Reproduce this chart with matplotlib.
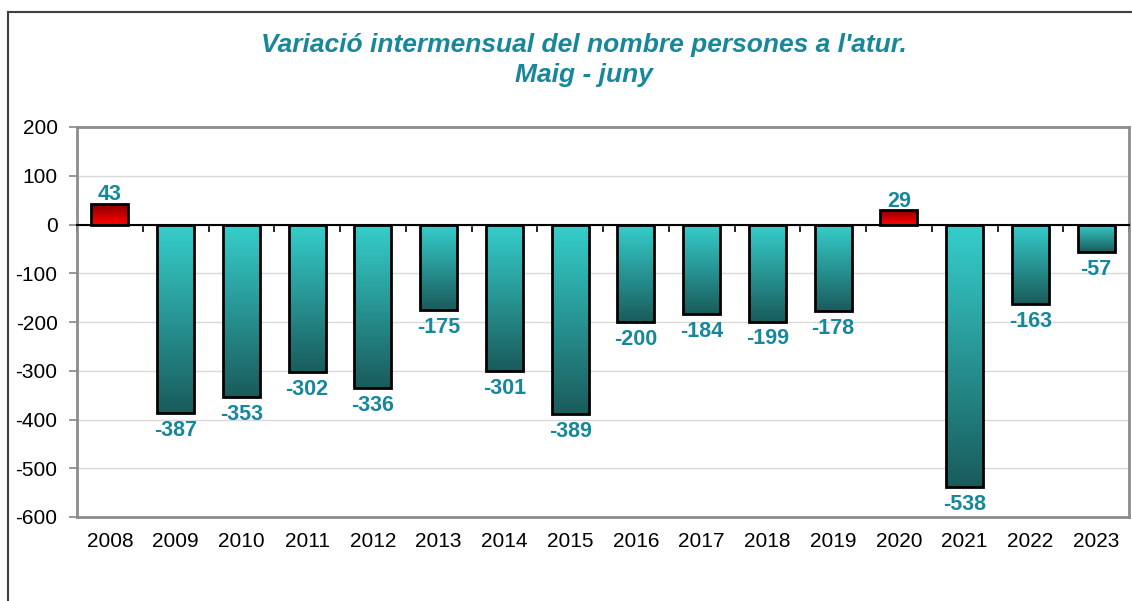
import numpy as np
import matplotlib
matplotlib.use('Agg')
import matplotlib.pyplot as plt
from matplotlib.lines import Line2D

plt.rcParams['font.family'] = ['Liberation Sans', 'DejaVu Sans']
plt.rcParams['axes.unicode_minus'] = False

# dades
anys = ['2008', '2009', '2010', '2011', '2012', '2013', '2014', '2015',
        '2016', '2017', '2018', '2019', '2020', '2021', '2022', '2023']
variacio = [43, -387, -353, -302, -336, -175, -301, -389,
            -200, -184, -199, -178, 29, -538, -163, -57]

titol = "Variació intermensual del nombre persones a l'atur.\nMaig - juny"
color_text = '#17889b'


def gradient_bar(ax, x, h, width):
    bar = ax.bar(x, h, width=width, color='none', edgecolor='black',
                 linewidth=2, zorder=4)[0]
    if h >= 0:
        c_top, c_bot = np.array([0.50, 0.0, 0.0]), np.array([1.0, 0.0, 0.0])
    else:
        c_top, c_bot = np.array([0.21, 0.81, 0.80]), np.array([0.10, 0.36, 0.36])
    t = np.linspace(0, 1, 100)[:, None]
    img = c_top[None, None, :] * (1 - t[..., None]) + c_bot[None, None, :] * t[..., None]
    img = np.repeat(img, 2, axis=1)
    top, bot = max(h, 0), min(h, 0)
    im = ax.imshow(img, extent=(x - width / 2, x + width / 2, bot, top),
                   aspect='auto', origin='upper', zorder=3)
    im.set_clip_path(bar)
    return bar


fig = plt.figure(figsize=(11.32, 6.01), dpi=100)
ax = fig.add_axes([77 / 1132, 1 - 517 / 601, (1129 - 77) / 1132, (517 - 127) / 601])

x = np.arange(len(anys))
for xi, v in zip(x, variacio):
    gradient_bar(ax, xi, v, 0.56)
    if v >= 0:
        ax.annotate(str(v), (xi, v), xytext=(0, -1), textcoords='offset points',
                    ha='center', va='bottom', fontsize=15.5, fontweight='bold',
                    color=color_text, zorder=5)
    else:
        ax.annotate(str(v), (xi, v), xytext=(0, -5), textcoords='offset points',
                    ha='center', va='top', fontsize=15.5, fontweight='bold',
                    color=color_text, zorder=5)

ax.set_xlim(-0.5, len(anys) - 0.5)
ax.set_ylim(-600, 200)
ax.set_yticks(np.arange(-600, 201, 100))
ax.yaxis.grid(True, color='#d9d9d9', linewidth=1)
ax.set_axisbelow(True)
ax.tick_params(axis='y', labelsize=15, length=6, color='#888888', width=1.2, pad=8)

# eix x a zero
for s in ['top', 'right', 'left']:
    ax.spines[s].set_color('#8c8c8c')
    ax.spines[s].set_linewidth(2)
ax.spines['bottom'].set_position(('data', 0))
ax.spines['bottom'].set_color('black')
ax.spines['bottom'].set_linewidth(1.5)
ax.spines['bottom'].set_zorder(6)
ax.set_xticks(np.arange(-0.5, len(anys), 1))
ax.set_xticklabels([])
ax.tick_params(axis='x', length=5, width=1.2, color='black', direction='out')

# marc inferior de l'àrea del gràfic
ax.add_line(Line2D([0, 1], [0, 0], transform=ax.transAxes, color='#8c8c8c',
                   linewidth=2, clip_on=False, zorder=6))

sec = ax.secondary_xaxis('bottom')
sec.set_xticks(x)
sec.set_xticklabels(anys)
sec.tick_params(length=0, labelsize=15, pad=11)
sec.spines['bottom'].set_visible(False)

fig.text(584 / 1132, 1 - 60 / 601, titol, ha='center', va='center',
         fontsize=19, fontweight='bold', fontstyle='italic', color=color_text,
         linespacing=1.3)

# vora exterior
fig.add_artist(Line2D([8 / 1132, 8 / 1132], [0, 1 - 12 / 601], transform=fig.transFigure,
                      color='#404040', linewidth=1.5))
fig.add_artist(Line2D([8 / 1132, 1], [1 - 12 / 601, 1 - 12 / 601], transform=fig.transFigure,
                      color='#404040', linewidth=1.5))

fig.savefig('out.png', dpi=100)
